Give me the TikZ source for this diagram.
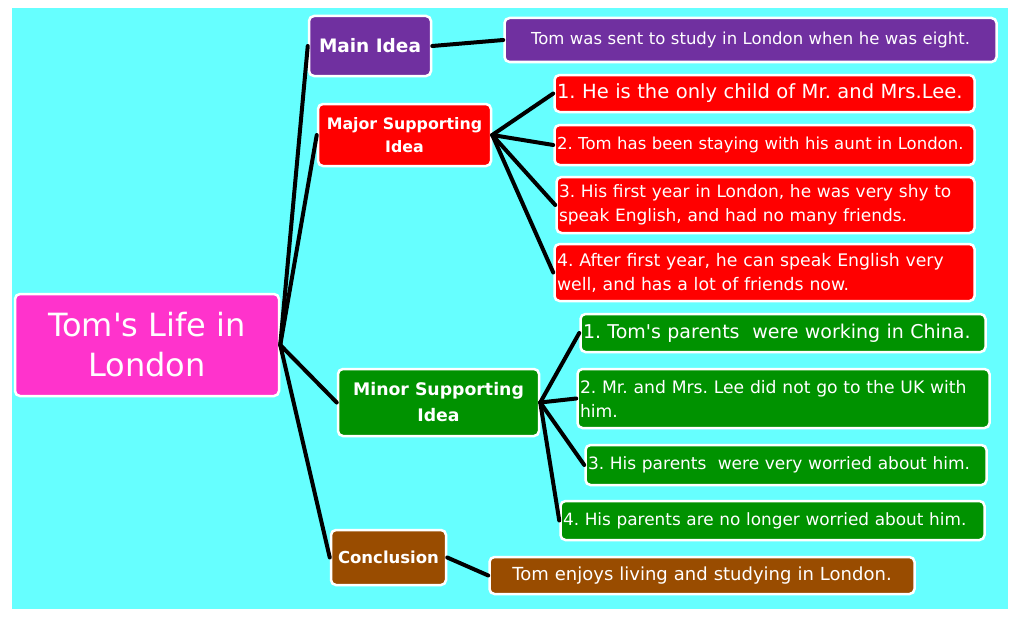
\documentclass[tikz,border=0pt]{standalone}
\usepackage{fontspec}
\setmainfont{DejaVu Sans}
\usetikzlibrary{positioning}
\definecolor{bgcyan}{RGB}{102,255,255}
\definecolor{ideapurple}{RGB}{112,48,160}
\definecolor{majorred}{RGB}{255,0,0}
\definecolor{minorgreen}{RGB}{0,146,0}
\definecolor{rootpink}{RGB}{255,51,204}
\definecolor{conclbrown}{RGB}{153,76,0}
\tikzstyle{topicbox}=[rectangle,rounded corners=5pt,draw=white,line width=2.5pt,text=white,inner xsep=2.5pt,inner ysep=1pt]
\tikzstyle{headbox}=[topicbox,align=center]
\tikzstyle{itembox}=[topicbox,align=left]
\tikzstyle{branch}=[draw,black,line width=4pt,line cap=round]
\newcommand{\fsz}[2]{\fontsize{#1}{#2}\selectfont}
\newcommand{\apos}{\textquotesingle}

\begin{document}
\frenchspacing
\begin{tikzpicture}[x=1pt,y=-1pt]
    \useasboundingbox (0,0) rectangle (1019,618);
    \fill[bgcyan] (12,8) rectangle (1008,609);

    % First we draw the topic and the four headings
    \node[headbox,fill=rootpink,minimum width=264pt,minimum height=102pt,font=\fsz{32}{40}] (root) at (147,345) {Tom\apos s Life in\\London};

    \foreach \pos/\name/\col/\w/\h/\fs/\bs/\label in {{(370,46)/mainidea/ideapurple/122/60/18.5/22/{Main Idea}}, {(404.5,135)/major/majorred/173/62/15.8/23/{Major Supporting\\Idea}}, {(438.5,402.5)/minor/minorgreen/201/67/17.3/26/{Minor Supporting\\Idea}}, {(388.5,557.5)/concl/conclbrown/115/55/16.5/20/{Conclusion}}}
        \node[headbox,fill=\col,minimum width=\w pt,minimum height=\h pt,font=\bfseries\fsz{\fs}{\bs}] (\name) at \pos {\label};

    % Then the detail boxes
    \foreach \pos/\name/\col/\w/\h/\fs/\label in {{(764.5,93.5)/maj1/majorred/415/37/19.5/{1. He is the only child of Mr. and Mrs.Lee.}}, {(764.5,145)/maj2/majorred/415/40/16.5/{2. Tom has been staying with his aunt in London.}}, {(765.5,205)/maj3/majorred/413/56/17/{3. His first year in London, he was very shy to\\speak English, and had no many friends.}}, {(764.5,272.5)/maj4/majorred/415/57/17.3/{4. After first year, he can speak English very\\well, and has a lot of friends now.}}, {(783,333)/min1/minorgreen/400/38/19/{1. Tom\apos s parents~ were working in China.}}, {(783.5,398.5)/min2/minorgreen/407/59/17.2/{2. Mr. and Mrs. Lee did not go to the UK with\\him.}}, {(786,465)/min3/minorgreen/396/40/17/{3. His parents~ were very worried about him.}}, {(772.5,520.5)/min4/minorgreen/419/39/16.9/{4. His parents are no longer worried about him.}}}
        \node[itembox,fill=\col,text width=\w pt,minimum height=\h pt,font=\fsz{\fs}{24}] (\name) at \pos {\label};

    \node[itembox,align=center,fill=ideapurple,text width=487pt,minimum height=44pt,font=\fsz{16.5}{24}] (maintext) at (750.5,40) {Tom was sent to study in London when he was eight.};
    \node[itembox,align=center,fill=conclbrown,text width=420pt,minimum height=37pt,font=\fsz{18}{24}] (concltext) at (702,575.5) {Tom enjoys living and studying in London.};

    % Connect the boxes
    \foreach \dest in {mainidea,major,minor,concl}
        \path[branch] (root.east) -- (\dest.west);
    \foreach \dest in {maj1,maj2,maj3,maj4}
        \path[branch] (major.east) -- (\dest.west);
    \foreach \dest in {min1,min2,min3,min4}
        \path[branch] (minor.east) -- (\dest.west);
    \path[branch] (mainidea.east) -- (maintext.west);
    \path[branch] (concl.east) -- (concltext.west);
\end{tikzpicture}
\end{document}
